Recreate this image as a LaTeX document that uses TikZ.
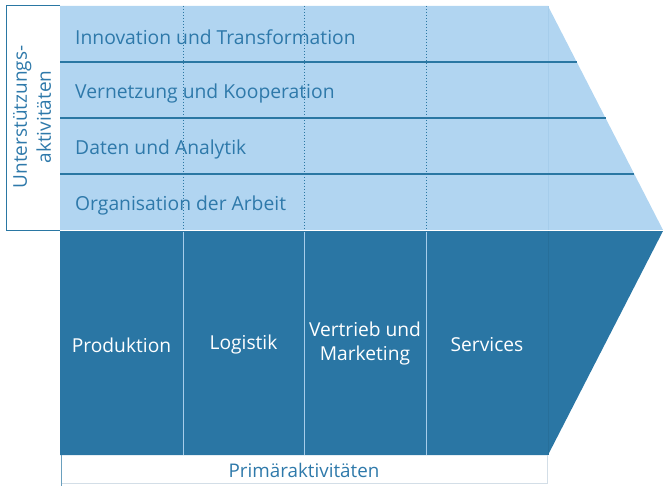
\documentclass[tikz,border=0pt]{standalone}
\usepackage{fontspec}
\setmainfont{Open Sans}
\usetikzlibrary{calc}
\definecolor{lightfill}{HTML}{B1D5F1}
\definecolor{darkfill}{HTML}{2A76A4}
\definecolor{textblue}{HTML}{2E79AA}
\definecolor{rulecol}{HTML}{2A77A3}
\definecolor{sepcol}{HTML}{A6CDEA}
\definecolor{greyline}{HTML}{D3DEE7}
\tikzset{
  supporttext/.style={anchor=west, text=textblue, font=\fontsize{19.3}{23}\selectfont, inner sep=0pt},
  primarytext/.style={align=center, text=white, font=\fontsize{19.2}{24.5}\selectfont, inner sep=0pt},
  rowrule/.style={draw=rulecol, line width=1.3pt},
  dotrule/.style={draw=rulecol, line width=1pt, dotted},
  colsep/.style={draw=sepcol, line width=1pt},
}
\begin{document}
\begin{tikzpicture}[x=1pt, y=-1pt]
\useasboundingbox (0,0) rectangle (663,486);

% support activities band (light chevron)
\fill[lightfill] (60,6) -- (548,6) -- (663,230) -- (60,230) -- cycle;
% primary activities band (dark chevron)
\fill[darkfill] (60,231) -- (663,231) -- (548,455) -- (60,455) -- cycle;
\draw[white, line width=1.2pt] (60,230.5) -- (663,230.5);

% faint column edge at the chevron base
\draw[draw=lightfill!92!rulecol, line width=0.7pt] (548,6) -- (548,230);
\draw[draw=darkfill!94!black, line width=0.7pt] (548,231) -- (548,455);

% row rules up to the slanted edge
\draw[rowrule] (60,62) -- (576.8,62);
\draw[rowrule] (60,118) -- (605.5,118);
\draw[rowrule] (60,174) -- (634.3,174);

% dotted column guides in the support band
\foreach \xx in {183,304,426} \draw[dotrule] (\xx,6) -- (\xx,230);

% column separators in the primary band
\foreach \xx in {183,304,426} \draw[colsep] (\xx,232) -- (\xx,455);

% left label box
\draw[rulecol, line width=1pt] (60,6) -- (6,6) -- (6,230) -- (60,230);
\node[rotate=90, align=center, text=textblue, font=\fontsize{19}{24}\selectfont, inner sep=0pt] (suplabel) at (32,117) {Unterstützungs-\\aktivitäten};

% bottom label box
\draw[greyline, line width=1pt] (61,483) -- (547.5,483) -- (547.5,455);
\draw[rulecol!70, line width=1pt] (61,455) -- (61,486);
\node[text=textblue, font=\fontsize{18.8}{21}\selectfont, inner sep=0pt] (primlabel) at (304,470) {Primäraktivitäten};

% support activities
\node[supporttext] (innov) at (75,37) {Innovation und Transformation};
\node[supporttext] (vernetz) at (75,93) {Vernetzung und Kooperation};
\node[supporttext] (daten) at (75,149) {Daten und Analytik};
\node[supporttext] (orga) at (75,205) {Organisation der Arbeit};

% primary activities
\node[primarytext] (prod) at (121.5,345) {Produktion};
\node[primarytext] (logi) at (243.5,345) {Logistik};
\node[primarytext] (vertr) at (365,343.5) {Vertrieb und\\Marketing};
\node[primarytext] (serv) at (487,345) {Services};
\end{tikzpicture}
\end{document}
